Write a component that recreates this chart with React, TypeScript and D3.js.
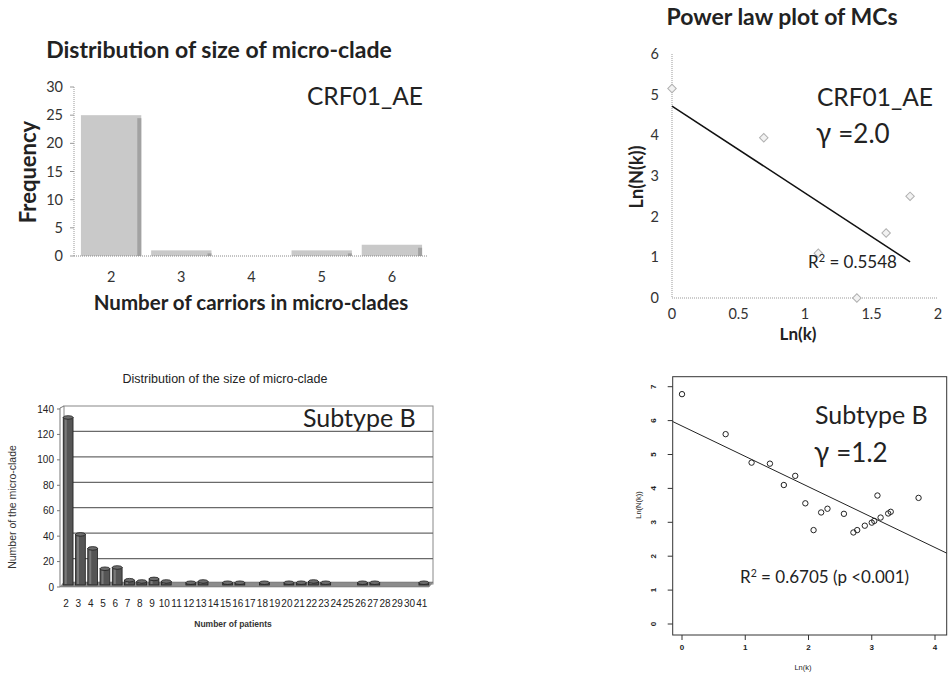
import React from "react";
import * as d3 from "d3";

// CRF01_AE: distribution of micro-clade sizes
const crfSizes = ["2", "3", "4", "5", "6"];
const crfFreq = [25, 1, 0, 1, 2];
const crfYTicks = [0, 5, 10, 15, 20, 25, 30];

// CRF01_AE: power law (ln k vs ln N(k))
const crfLnK = [0, 0.69, 1.1, 1.39, 1.61, 1.79];
const crfLnN = [5.15, 3.94, 1.1, 0, 1.6, 2.5];
const crfFitIntercept = 4.72;
const crfFitSlope = -2.14;
const crfXTicks = [0, 0.5, 1, 1.5, 2];
const crfNTicks = [0, 1, 2, 3, 4, 5, 6];

// Subtype B: distribution of micro-clade sizes
const bSizes = [
  "2", "3", "4", "5", "6", "7", "8", "9", "10", "11", "12", "13", "14", "15", "16",
  "17", "18", "19", "20", "21", "22", "23", "24", "25", "26", "27", "28", "29", "30", "41",
];
const bCounts = [
  131, 39, 28, 12, 13, 3, 2, 4, 2, 0, 1, 2, 0, 1, 1,
  0, 1, 0, 1, 1, 2, 1, 0, 0, 1, 1, 0, 0, 0, 1,
];
const bYTicks = [0, 20, 40, 60, 80, 100, 120, 140];

// Subtype B: power law
const bLnK = [0, 0.69, 1.1, 1.39, 1.61, 1.79, 1.95, 2.08, 2.2, 2.3, 2.56, 2.71, 2.77, 2.89, 3.0, 3.04, 3.09, 3.14, 3.26, 3.3, 3.74];
const bLnN = [6.78, 5.6, 4.76, 4.73, 4.1, 4.37, 3.56, 2.77, 3.29, 3.4, 3.25, 2.7, 2.77, 2.9, 2.99, 3.04, 3.79, 3.14, 3.26, 3.31, 3.72];
const bFitIntercept = 5.84;
const bFitSlope = -0.896;
const bXTicks = [0, 1, 2, 3, 4];
const bNTicks = [0, 1, 2, 3, 4, 5, 6, 7];

const CAL = "Lato, 'Open Sans', sans-serif";
const ARIAL = "'Liberation Sans', Arial, sans-serif";

function CrfBars() {
  const x = d3.scaleBand().domain(crfSizes).range([76, 427]).paddingInner(0.14).paddingOuter(0.07);
  const y = d3.scaleLinear().domain([0, 30]).range([256, 87]);
  const bw = x.bandwidth();
  return (
    <g>
      <text x={219} y={58} textAnchor="middle" fontFamily={CAL} fontWeight="bold" fontSize={23} fill="#222">
        Distribution of size of micro-clade
      </text>
      <line x1={74} x2={74} y1={y(30)} y2={y(0)} stroke="#999" strokeDasharray="1 1" />
      {crfYTicks.map((t) => (
        <g key={t}>
          <line x1={70} x2={74} y1={y(t)} y2={y(t)} stroke="#999" />
          <text x={63} y={y(t)} dy="0.35em" textAnchor="end" fontFamily={CAL} fontSize={14.5} fill="#333">
            {t}
          </text>
        </g>
      ))}
      {crfSizes.map((s, i) => {
        const v = crfFreq[i];
        if (v <= 0) return null;
        const x0 = x(s) as number;
        return (
          <g key={s}>
            <rect x={x0} y={y(v)} width={bw} height={y(0) - y(v)} fill="#c9c9c9" />
            <rect x={x0 + bw - 4} y={y(v) + 3} width={4} height={y(0) - y(v) - 3} fill="#a2a2a2" />
          </g>
        );
      })}
      <line x1={74} x2={427} y1={y(0)} y2={y(0)} stroke="#888" strokeDasharray="1 1" />
      {crfSizes.map((s) => (
        <text key={s} x={(x(s) as number) + bw / 2} y={282} textAnchor="middle" fontFamily={CAL} fontSize={14.5} fill="#333">
          {s}
        </text>
      ))}
      <text transform="translate(36,172) rotate(-90)" textAnchor="middle" fontFamily={CAL} fontWeight="bold" fontSize={22} fill="#222">
        Frequency
      </text>
      <text x={251} y={310} textAnchor="middle" fontFamily={CAL} fontWeight="bold" fontSize={20.5} fill="#222">
        Number of carriors in micro-clades
      </text>
      <text x={307} y={105} fontFamily={CAL} fontSize={24.5} fill="#222">
        CRF01_AE
      </text>
    </g>
  );
}

function CrfPower() {
  const x = d3.scaleLinear().domain([0, 2]).range([672, 938]);
  const y = d3.scaleLinear().domain([0, 6]).range([298, 54]);
  const diamond = d3.symbol(d3.symbolSquare, 36)() as string;
  const fitEnd = crfLnK[crfLnK.length - 1];
  return (
    <g>
      <text x={782} y={25} textAnchor="middle" fontFamily={CAL} fontWeight="bold" fontSize={23} fill="#222">
        Power law plot of MCs
      </text>
      <line x1={x(0)} x2={x(0)} y1={y(6)} y2={y(0)} stroke="#999" strokeDasharray="1 1" />
      <line x1={x(0)} x2={x(2)} y1={y(0)} y2={y(0)} stroke="#999" strokeDasharray="1 1" />
      {crfNTicks.map((t) => (
        <text key={t} x={659} y={y(t)} dy="0.35em" textAnchor="end" fontFamily={CAL} fontSize={14.5} fill="#333">
          {t}
        </text>
      ))}
      {crfXTicks.map((t) => (
        <text key={t} x={x(t)} y={319} textAnchor="middle" fontFamily={CAL} fontSize={14.5} fill="#333">
          {t}
        </text>
      ))}
      {crfLnK.map((k, i) => (
        <path
          key={i}
          d={diamond}
          transform={`translate(${x(k)},${y(crfLnN[i])}) rotate(45)`}
          fill="#f2f2f2"
          stroke="#b0b0b0"
          strokeWidth={1}
        />
      ))}
      <line
        x1={x(0)}
        y1={y(crfFitIntercept)}
        x2={x(fitEnd)}
        y2={y(crfFitIntercept + crfFitSlope * fitEnd)}
        stroke="#111"
        strokeWidth={1.5}
      />
      <text x={808} y={268} fontFamily={CAL} fontSize={17} fill="#222">
        R<tspan dy={-6} fontSize={11}>2</tspan>
        <tspan dy={6}> = 0.5548</tspan>
      </text>
      <text x={798} y={340} textAnchor="middle" fontFamily={CAL} fontWeight="bold" fontSize={17} fill="#222">
        Ln(k)
      </text>
      <text transform="translate(643,177) rotate(-90)" textAnchor="middle" fontFamily={CAL} fontWeight="bold" fontSize={18} fill="#222">
        Ln(N(k))
      </text>
      <text x={817} y={106} fontFamily={CAL} fontSize={24.5} fill="#222">
        CRF01_AE
      </text>
      <text x={816} y={143} fontFamily={CAL} fontSize={28} fill="#222">
        γ<tspan dx={7} fontSize={26}>=2.0</tspan>
      </text>
    </g>
  );
}

function SubtypeBBars() {
  const x = d3.scaleBand().domain(bSizes).range([60, 428]).paddingInner(0.2).paddingOuter(0.1);
  const y = d3.scaleLinear().domain([0, 140]).range([584, 406]);
  const bw = x.bandwidth();
  return (
    <g>
      <text x={225} y={383} textAnchor="middle" fontFamily={ARIAL} fontSize={12.5} fill="#222">
        Distribution of the size of micro-clade
      </text>
      {/* back wall */}
      <rect x={64} y={y(140)} width={369} height={y(0) - y(140)} fill="#fff" stroke="#888" strokeWidth={1} />
      {bYTicks.slice(1, -1).map((t) => (
        <line key={t} x1={64} x2={433} y1={y(t)} y2={y(t)} stroke="#6a6a6a" strokeWidth={1.3} />
      ))}
      {/* left wall edge */}
      <path d={`M60,${y(140) + 2} L64,${y(140)} M60,${y(140) + 2} L60,${y(0) + 3}`} stroke="#777" fill="none" />
      {bYTicks.map((t) => (
        <g key={t}>
          <line x1={57} x2={60} y1={y(t) + 3} y2={y(t) + 3} stroke="#777" />
          <text x={54} y={y(t) + 3} dy="0.35em" textAnchor="end" fontFamily={ARIAL} fontSize={10} fill="#222">
            {t}
          </text>
        </g>
      ))}
      {/* floor */}
      <path d={`M60,${y(0) + 3} L64,${y(0) - 2} L433,${y(0) - 2} L429,${y(0) + 3} Z`} fill="#8c8c8c" stroke="#666" strokeWidth={0.5} />
      {bSizes.map((s, i) => {
        const v = bCounts[i];
        if (v <= 0) return null;
        const cx = (x(s) as number) + bw / 2 + 2;
        const top = y(v);
        const bottom = y(0) + 1;
        return (
          <g key={s}>
            <rect x={cx - bw / 2} y={top} width={bw} height={Math.max(bottom - top, 1)} fill="#555" stroke="#1e1e1e" strokeWidth={0.8} />
            <rect x={cx - bw / 2 + 1.5} y={top + 1} width={2} height={Math.max(bottom - top - 2, 0)} fill="#7a7a7a" />
            <ellipse cx={cx} cy={top} rx={bw / 2} ry={1.8} fill="#6d6d6d" stroke="#1e1e1e" strokeWidth={0.8} />
          </g>
        );
      })}
      {bSizes.map((s) => (
        <text key={s} x={(x(s) as number) + bw / 2} y={607} textAnchor="middle" fontFamily={ARIAL} fontSize={10} fill="#222">
          {s}
        </text>
      ))}
      <text transform="translate(16,507) rotate(-90)" textAnchor="middle" fontFamily={ARIAL} fontSize={10.5} fill="#333">
        Number of the micro-clade
      </text>
      <text x={233} y={627} textAnchor="middle" fontFamily={ARIAL} fontSize={8.5} fontWeight="bold" fill="#333">
        Number of patients
      </text>
      <text x={303} y={427} fontFamily={CAL} fontSize={25} fill="#222">
        Subtype B
      </text>
    </g>
  );
}

function SubtypeBPower() {
  const x = d3.scaleLinear().domain([0, 4]).range([682, 935]);
  const y = d3.scaleLinear().domain([0, 7]).range([624, 386.7]);
  const left = 672.7;
  const right = 946.7;
  const top = 376.7;
  const bottom = 635;
  const kL = x.invert(left);
  const kR = x.invert(right);
  return (
    <g>
      <rect x={left} y={top} width={right - left} height={bottom - top} fill="none" stroke="#333" strokeWidth={1} />
      {bXTicks.map((t) => (
        <g key={t}>
          <line x1={x(t)} x2={x(t)} y1={bottom} y2={bottom + 5} stroke="#333" />
          <text x={x(t)} y={650} textAnchor="middle" fontFamily={ARIAL} fontWeight="bold" fontSize={8} fill="#222">
            {t}
          </text>
        </g>
      ))}
      {bNTicks.map((t) => (
        <g key={t}>
          <line x1={left - 5} x2={left} y1={y(t)} y2={y(t)} stroke="#333" />
          <text transform={`translate(656,${y(t)}) rotate(-90)`} textAnchor="middle" fontFamily={ARIAL} fontWeight="bold" fontSize={8} fill="#222">
            {t}
          </text>
        </g>
      ))}
      <line
        x1={left}
        y1={y(bFitIntercept + bFitSlope * kL)}
        x2={right}
        y2={y(bFitIntercept + bFitSlope * kR)}
        stroke="#222"
        strokeWidth={1}
      />
      {bLnK.map((k, i) => (
        <circle key={i} cx={x(k)} cy={y(bLnN[i])} r={2.7} fill="none" stroke="#222" strokeWidth={1} />
      ))}
      <text x={803} y={670} textAnchor="middle" fontFamily={ARIAL} fontSize={7.5} fill="#222">
        Ln(k)
      </text>
      <text transform="translate(641,505) rotate(-90)" textAnchor="middle" fontFamily={ARIAL} fontSize={7.5} fill="#222">
        Ln(N(k))
      </text>
      <text x={815} y={424} fontFamily={CAL} fontSize={25} fill="#222">
        Subtype B
      </text>
      <text x={814} y={462} fontFamily={CAL} fontSize={28} fill="#222">
        γ<tspan dx={7} fontSize={26}>=1.2</tspan>
      </text>
      <text x={740} y={583} fontFamily={CAL} fontSize={17} fill="#222">
        R<tspan dy={-6} fontSize={10.5}>2</tspan>
        <tspan dy={6}> = 0.6705 (p &lt;0.001)</tspan>
      </text>
    </g>
  );
}

export default function App() {
  return (
    <svg width={949} height={676} style={{ position: "absolute", left: 0, top: 0, background: "#fff" }}>
      <rect width={949} height={676} fill="#fff" />
      <CrfBars />
      <CrfPower />
      <SubtypeBBars />
      <SubtypeBPower />
    </svg>
  );
}
